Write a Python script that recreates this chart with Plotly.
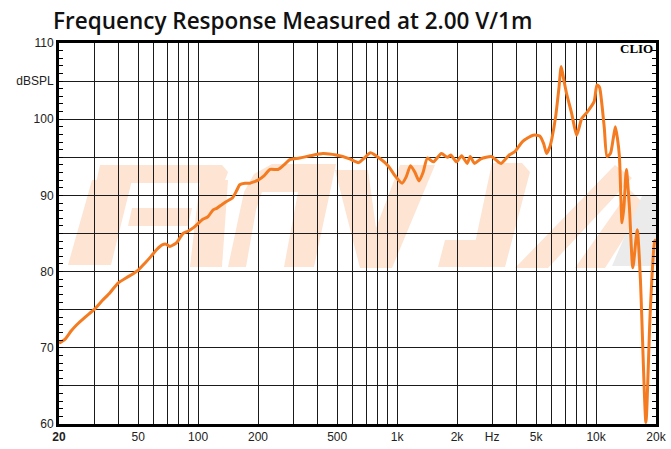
import math
import plotly.graph_objects as go

# ---------------- data ----------------
freq_hz = [20, 21.4, 23, 24.5, 27, 30, 33, 36, 39.6, 43.6, 47, 50, 54, 58, 62, 66, 69, 72, 75, 78,
           84, 89, 94, 98, 106, 112, 119, 124, 132, 139, 149, 156, 162, 172, 182, 192, 200, 215,
           230, 252, 270, 289, 324, 365, 424, 494, 578, 640, 690, 735, 823, 907, 981, 1060, 1110,
           1168, 1230, 1290, 1350, 1420, 1520, 1670, 1790, 1860, 1990, 2110, 2250, 2330, 2450,
           2640, 2980, 3220, 3330, 3660, 3890, 4280, 4830, 5210, 5450, 5640, 5860, 6000, 6260,
           6500, 6680, 6900, 7100, 7530, 7980, 8200, 8470, 9060, 9770, 10100, 10400, 10700,
           11000, 11350, 11800, 12200, 12500, 12800, 13100, 13500, 13800, 14200, 14700, 15300,
           16100, 16700, 17800, 18700, 19700, 20000]
spl_db = [70.6, 71.1, 72.2, 73.0, 74.0, 75.0, 76.2, 77.2, 78.5, 79.2, 79.7, 80.2, 81.1, 82.0, 82.9,
          83.5, 83.6, 83.3, 83.5, 83.8, 85.0, 85.3, 85.7, 86.1, 86.9, 87.2, 88.1, 88.3, 88.8, 89.2,
          89.7, 90.6, 91.4, 91.6, 91.6, 91.8, 92.0, 92.6, 93.4, 93.4, 94.0, 94.7, 94.9, 95.2, 95.5,
          95.3, 94.8, 94.3, 95.0, 95.6, 94.8, 93.8, 92.5, 91.6, 92.4, 93.9, 93.0, 91.9, 93.0, 94.9,
          94.4, 95.5, 95.0, 95.3, 94.4, 95.2, 94.2, 95.1, 94.2, 94.8, 95.1, 94.4, 94.2, 95.3, 95.7,
          97.1, 97.9, 97.8, 96.8, 95.5, 96.4, 97.5, 100.3, 104.0, 106.9, 105.0, 103.4, 100.8, 97.9,
          98.8, 100.1, 101.0, 102.3, 104.5, 104.2, 101.9, 98.8, 95.1, 95.5, 97.5, 99.0, 97.5, 95.1,
          86.4, 88.5, 93.4, 88.5, 80.5, 85.5, 78.9, 60.2, 74.6, 84.0, 84.2]

x_tick_vals = [20, 50, 100, 200, 500, 1000, 2000, 3000, 5000, 10000, 20000]
x_tick_text = ["<b>20</b>", "50", "100", "200", "500", "1k", "2k", "Hz", "5k", "10k", "20k"]
x_minor_grid = [30, 40, 60, 70, 80, 90, 300, 400, 600, 700, 800, 900,
                4000, 6000, 7000, 8000, 9000]
y_tick_vals = [60, 70, 80, 90, 100, 105, 110]
y_tick_text = ["60", "70", "80", "90", "100", "dBSPL", "110"]
y_extra_grid = [65, 75, 85, 95]

title_text = "Frequency Response Measured at 2.00 V/1m"
brand_text = "CLIO"

# ---------------- layout constants ----------------
W, H = 671, 449
L, R, T, B = 59, 15, 43, 25
PW, PH = W - L - R, H - T - B

LINE_COLOR = "#f47b20"
GRID_COLOR = "#1a1a1a"
WM_COLOR = "#fde4d3"
WM_GRAY = "#ebebeb"


def px(xp, yp):
    return ((xp - L) / PW, (H - B - yp) / PH)


def poly(points, color=WM_COLOR):
    pts = [px(a, b) for a, b in points]
    d = "M " + " L ".join(f"{a:.4f},{b:.4f}" for a, b in pts) + " Z"
    return dict(type="path", xref="paper", yref="paper", path=d,
                fillcolor=color, line=dict(width=0), layer="below")


# faint background logo (decoration)
watermark = [
    # letter 1
    poly([(100, 165), (222, 165), (228, 172), (224, 183), (96, 183)]),
    poly([(92, 180), (132, 180), (111, 265), (68, 265)]),
    poly([(132, 208), (192, 208), (188, 226), (128, 226)]),
    poly([(200, 180), (228, 180), (222, 267), (190, 267)]),
    # letter 2 (arch)
    poly([(228, 267), (244, 192), (254, 174), (272, 164), (336, 164), (314, 267),
          (284, 267), (298, 192), (262, 192), (256, 210), (246, 267)]),
    # letter 3 (V)
    poly([(335, 170), (368, 170), (376, 228), (400, 165), (435, 165), (392, 268), (360, 268)]),
    # letter 4
    poly([(492, 163), (522, 163), (530, 172), (505, 267), (470, 267)]),
    poly([(445, 240), (500, 240), (494, 267), (438, 267)]),
    # letter 5 (diagonal bands)
    poly([(515, 268), (548, 268), (632, 178), (615, 165)]),
    poly([(575, 268), (605, 268), (645, 205), (630, 190)]),
    poly([(612, 266), (656, 266), (656, 196), (642, 196)], WM_GRAY),
]

fig = go.Figure()
fig.add_trace(go.Scatter(
    x=freq_hz, y=spl_db, mode="lines",
    line=dict(color=LINE_COLOR, width=3, shape="spline", smoothing=0.6),
    hoverinfo="skip", showlegend=False))

tick_font = dict(family="Liberation Sans, Arial, sans-serif", size=12, color="#222")

fig.update_layout(
    template="none",
    width=W, height=H,
    margin=dict(l=L, r=R, t=T, b=B, pad=0, autoexpand=False),
    paper_bgcolor="white", plot_bgcolor="white",
    title=dict(text=title_text, x=53 / W, xanchor="left", y=1 - 21 / H, yanchor="middle",
               xref="container", yref="container", automargin=False,
               font=dict(family="Open Sans, sans-serif", size=22.5, color="#111", weight=600)),
    shapes=watermark,
    xaxis=dict(
        type="log", range=[math.log10(20), math.log10(20000)], automargin=False,
        tickmode="array", tickvals=x_tick_vals, ticktext=x_tick_text,
        ticks="", tickfont=tick_font,
        showgrid=True, gridcolor=GRID_COLOR, gridwidth=1,
        minor=dict(tickmode="array", tickvals=x_minor_grid, showgrid=True,
                   gridcolor=GRID_COLOR, gridwidth=1, ticks=""),
        showline=True, linecolor="black", linewidth=3, mirror=True,
        zeroline=False, fixedrange=True,
    ),
    yaxis=dict(
        range=[60, 110], tickmode="array", tickvals=y_tick_vals, ticktext=y_tick_text,
        automargin=False,
        ticks="inside", ticklen=4, tickcolor="black", tickwidth=1, tickfont=tick_font,
        showgrid=True, gridcolor=GRID_COLOR, gridwidth=1,
        minor=dict(tickmode="linear", tick0=60, dtick=1, ticks="inside", ticklen=4,
                   tickcolor="black", tickwidth=1, showgrid=False),
        showline=True, linecolor="black", linewidth=3, mirror=True,
        zeroline=False, fixedrange=True,
    ),
    yaxis2=dict(
        overlaying="y", side="right", range=[60, 110], automargin=False,
        tickmode="array", tickvals=y_extra_grid, showticklabels=False,
        ticks="inside", ticklen=4, tickcolor="black", tickwidth=1,
        showgrid=True, gridcolor=GRID_COLOR, gridwidth=1,
        minor=dict(tickmode="linear", tick0=60, dtick=1, ticks="inside", ticklen=4,
                   tickcolor="black", tickwidth=1, showgrid=False),
        showline=False, zeroline=False, fixedrange=True,
    ),
    annotations=[dict(text=f"<b>{brand_text}</b>", xref="paper", yref="paper",
                      x=1, y=(H - B - 49) / PH, xanchor="right", yanchor="middle",
                      xshift=-1, showarrow=False,
                      font=dict(family="Liberation Serif, Times New Roman, serif", size=13,
                                color="black"))],
)
# invisible trace to activate yaxis2
fig.add_trace(go.Scatter(x=[20], y=[60], yaxis="y2", mode="markers",
                         marker=dict(opacity=0), hoverinfo="skip", showlegend=False))

fig.write_html("out.html",
               config={"displayModeBar": False, "staticPlot": True},
               post_script="document.body.style.margin='0';document.body.style.overflow='hidden';")
